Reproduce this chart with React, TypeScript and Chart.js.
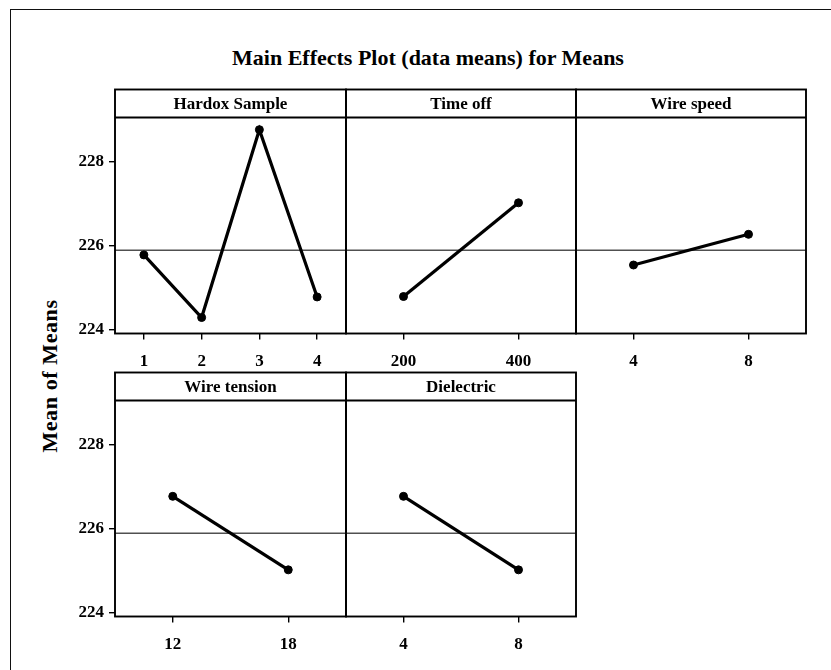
import React, { useEffect, useRef } from 'react';
import { Chart, registerables } from 'chart.js';

Chart.register(...registerables);

// ---------------- data ----------------
const CHART_TITLE = 'Main Effects Plot (data means) for Means';
const Y_LABEL = 'Mean of Means';

const HARDOX_LEVELS = ['1', '2', '3', '4'];
const HARDOX_MEANS = [225.78, 224.29, 228.76, 224.78];

const TIME_OFF_LEVELS = ['200', '400'];
const TIME_OFF_MEANS = [224.79, 227.02];

const WIRE_SPEED_LEVELS = ['4', '8'];
const WIRE_SPEED_MEANS = [225.54, 226.27];

const WIRE_TENSION_LEVELS = ['12', '18'];
const WIRE_TENSION_MEANS = [226.77, 225.02];

const DIELECTRIC_LEVELS = ['4', '8'];
const DIELECTRIC_MEANS = [226.77, 225.02];

const GRAND_MEAN = 225.89;
const Y_TICKS = [224, 226, 228];
const Y_MIN = 223.91;
const Y_MAX = 229.05;

const PANELS = [
  { title: 'Hardox Sample', levels: HARDOX_LEVELS, means: HARDOX_MEANS },
  { title: 'Time off', levels: TIME_OFF_LEVELS, means: TIME_OFF_MEANS },
  { title: 'Wire speed', levels: WIRE_SPEED_LEVELS, means: WIRE_SPEED_MEANS },
  { title: 'Wire tension', levels: WIRE_TENSION_LEVELS, means: WIRE_TENSION_MEANS },
  { title: 'Dielectric', levels: DIELECTRIC_LEVELS, means: DIELECTRIC_MEANS },
];

// ---------------- layout ----------------
const W = 831;
const H = 670;
const COLS = [115, 346, 576, 806];
const ROWS = [
  { top: 117.5, bottom: 333.5 },
  { top: 400.5, bottom: 616.5 },
];
const HEADER_H = 28;
const Y_AXIS_W = 50;
const X_AXIS_H = 40;
const FONT = '"Liberation Serif", "Times New Roman", serif';

const panelPlugin = {
  id: 'panelFrame',
  beforeDatasetsDraw(chart: any) {
    const { ctx, chartArea: a, scales } = chart;
    const y = scales.y.getPixelForValue(GRAND_MEAN);
    ctx.save();
    ctx.strokeStyle = '#505050';
    ctx.lineWidth = 1.6;
    ctx.beginPath();
    ctx.moveTo(a.left, y);
    ctx.lineTo(a.right, y);
    ctx.stroke();
    ctx.restore();
  },
  afterDraw(chart: any, _args: any, opts: any) {
    const { ctx, chartArea: a } = chart;
    ctx.save();
    ctx.strokeStyle = '#000';
    ctx.lineWidth = 1.9;
    ctx.strokeRect(a.left, a.top - HEADER_H, a.right - a.left, a.bottom - a.top + HEADER_H);
    ctx.beginPath();
    ctx.moveTo(a.left, a.top);
    ctx.lineTo(a.right, a.top);
    ctx.stroke();
    ctx.fillStyle = '#000';
    ctx.font = `bold 17px ${FONT}`;
    ctx.textAlign = 'center';
    ctx.textBaseline = 'middle';
    ctx.fillText(opts.title, (a.left + a.right) / 2, a.top - HEADER_H / 2 + 1);
    ctx.restore();
  },
};

function makeConfig(i: number): any {
  const p = PANELS[i];
  const row = i < 3 ? 0 : 1;
  const col = i < 3 ? i : i - 3;
  const left = COLS[col];
  const right = COLS[col + 1];
  const isLeft = col === 0;
  const r = ROWS[row];
  return {
    type: 'line',
    data: {
      labels: p.levels,
      datasets: [
        {
          data: p.means,
          borderColor: '#000',
          backgroundColor: '#000',
          borderWidth: 3.2,
          pointRadius: 4,
          pointBackgroundColor: '#000',
          pointBorderColor: '#000',
          pointBorderWidth: 1,
          tension: 0,
        },
      ],
    },
    plugins: [panelPlugin],
    options: {
      responsive: false,
      animation: false,
      events: [],
      layout: {
        padding: {
          left: left - Y_AXIS_W,
          right: W - right,
          top: r.top,
          bottom: H - r.bottom - X_AXIS_H,
        },
      },
      plugins: {
        legend: { display: false },
        tooltip: { enabled: false },
        title: { display: false },
        panelFrame: { title: p.title },
      },
      scales: {
        x: {
          type: 'category',
          offset: true,
          afterFit(scale: any) {
            scale.height = X_AXIS_H;
          },
          grid: {
            offset: false,
            drawOnChartArea: false,
            drawTicks: true,
            tickLength: 6,
            color: '#000',
            lineWidth: 1.4,
          },
          border: { display: false },
          ticks: {
            color: '#000',
            padding: 12,
            maxRotation: 0,
            autoSkip: false,
            font: { family: FONT, size: 17, weight: 'bold' },
          },
        },
        y: {
          type: 'linear',
          min: Y_MIN,
          max: Y_MAX,
          afterBuildTicks(scale: any) {
            scale.ticks = Y_TICKS.map((v) => ({ value: v }));
          },
          afterFit(scale: any) {
            scale.width = Y_AXIS_W;
          },
          grid: {
            display: isLeft,
            drawOnChartArea: false,
            drawTicks: true,
            tickLength: 6,
            color: '#000',
            lineWidth: 1.4,
          },
          border: { display: false },
          ticks: {
            display: isLeft,
            color: '#000',
            padding: 5,
            font: { family: FONT, size: 17, weight: 'bold' },
            callback: (v: any) => String(v),
          },
        },
      },
    },
  };
}

function Panel({ index }: { index: number }) {
  const ref = useRef<HTMLCanvasElement | null>(null);
  useEffect(() => {
    if (!ref.current) return;
    const chart = new Chart(ref.current, makeConfig(index));
    return () => chart.destroy();
  }, [index]);
  return (
    <canvas
      ref={ref}
      width={W}
      height={H}
      style={{ position: 'absolute', left: 0, top: 0, width: W, height: H }}
    />
  );
}

export default function App() {
  return (
    <div
      style={{
        position: 'fixed',
        left: 0,
        top: 0,
        width: W,
        height: H,
        overflow: 'hidden',
        background: '#fff',
        fontFamily: FONT,
      }}
    >
      <div
        style={{
          position: 'absolute',
          left: 10,
          top: 9,
          width: 1000,
          height: 1000,
          border: '1.5px solid #111',
        }}
      />
      <div
        style={{
          position: 'absolute',
          left: 428,
          top: 58,
          transform: 'translate(-50%, -50%)',
          whiteSpace: 'nowrap',
          fontWeight: 'bold',
          fontSize: 22,
          color: '#000',
        }}
      >
        {CHART_TITLE}
      </div>
      <div
        style={{
          position: 'absolute',
          left: 50,
          top: 376,
          transform: 'translate(-50%, -50%) rotate(-90deg)',
          whiteSpace: 'nowrap',
          fontWeight: 'bold',
          fontSize: 22,
          letterSpacing: 0.6,
          color: '#000',
        }}
      >
        {Y_LABEL}
      </div>
      {PANELS.map((_, i) => (
        <Panel key={i} index={i} />
      ))}
    </div>
  );
}
